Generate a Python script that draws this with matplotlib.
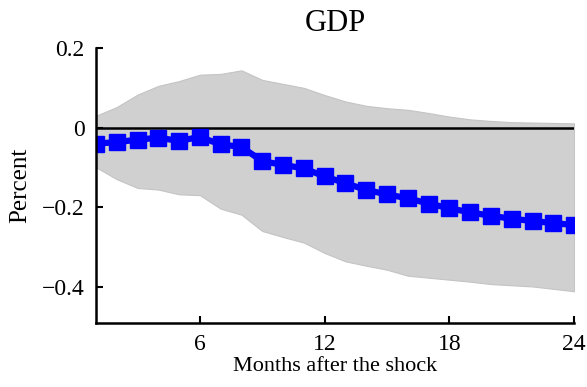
import numpy as np
import matplotlib.pyplot as plt

plt.rcParams['font.family'] = ['Liberation Serif', 'DejaVu Serif']

months = np.arange(1, 25)
gdp = [-0.040, -0.036, -0.030, -0.025, -0.033, -0.023, -0.042, -0.048,
       -0.084, -0.093, -0.102, -0.122, -0.139, -0.156, -0.167, -0.177,
       -0.190, -0.202, -0.212, -0.221, -0.228, -0.234, -0.239, -0.244]
upper = [0.030, 0.052, 0.083, 0.105, 0.117, 0.133, 0.135, 0.144,
         0.120, 0.110, 0.100, 0.082, 0.066, 0.055, 0.049, 0.045,
         0.037, 0.028, 0.021, 0.017, 0.014, 0.013, 0.012, 0.011]
lower = [-0.099, -0.129, -0.151, -0.155, -0.167, -0.169, -0.203, -0.218,
         -0.259, -0.274, -0.288, -0.314, -0.335, -0.346, -0.356, -0.371,
         -0.376, -0.381, -0.386, -0.392, -0.395, -0.398, -0.404, -0.410]
xticks = [6, 12, 18, 24]
yticks = [-0.4, -0.2, 0, 0.2]
ylabels = ['\u22120.4', '\u22120.2', '0', '0.2']

fig = plt.figure(figsize=(5.87, 3.87), dpi=100)
ax = fig.add_axes([0.1635, 0.165, 0.8145, 0.711])

ax.fill_between(months, lower, upper, color='#d0d0d0', edgecolor='#c4c4c4', lw=0.8)
ax.axhline(0, color='black', lw=1.8, xmin=0, xmax=1)
ax.plot(months, gdp, color='#0000ff', lw=4.5, marker='s', ms=11, mec='#0000ff')

ax.set_xlim(1, 24)
ax.set_ylim(-0.49, 0.2)
ax.set_xticks(xticks)
ax.set_xticklabels([str(t) for t in xticks], fontsize=17)
ax.set_yticks(yticks)
ax.set_yticklabels(ylabels, fontsize=17)
ax.tick_params(direction='in', length=5, width=1.5, pad=8)
for s in ['top', 'right']:
    ax.spines[s].set_visible(False)
for s in ['left', 'bottom']:
    ax.spines[s].set_linewidth(1.8)
ax.patch.set_visible(False)

ax.set_title('GDP', fontsize=22, pad=12)
ax.set_xlabel('Months after the shock', fontsize=16, labelpad=1)
ax.set_ylabel('Percent', fontsize=18, labelpad=8)

fig.savefig('out.png', dpi=100)
